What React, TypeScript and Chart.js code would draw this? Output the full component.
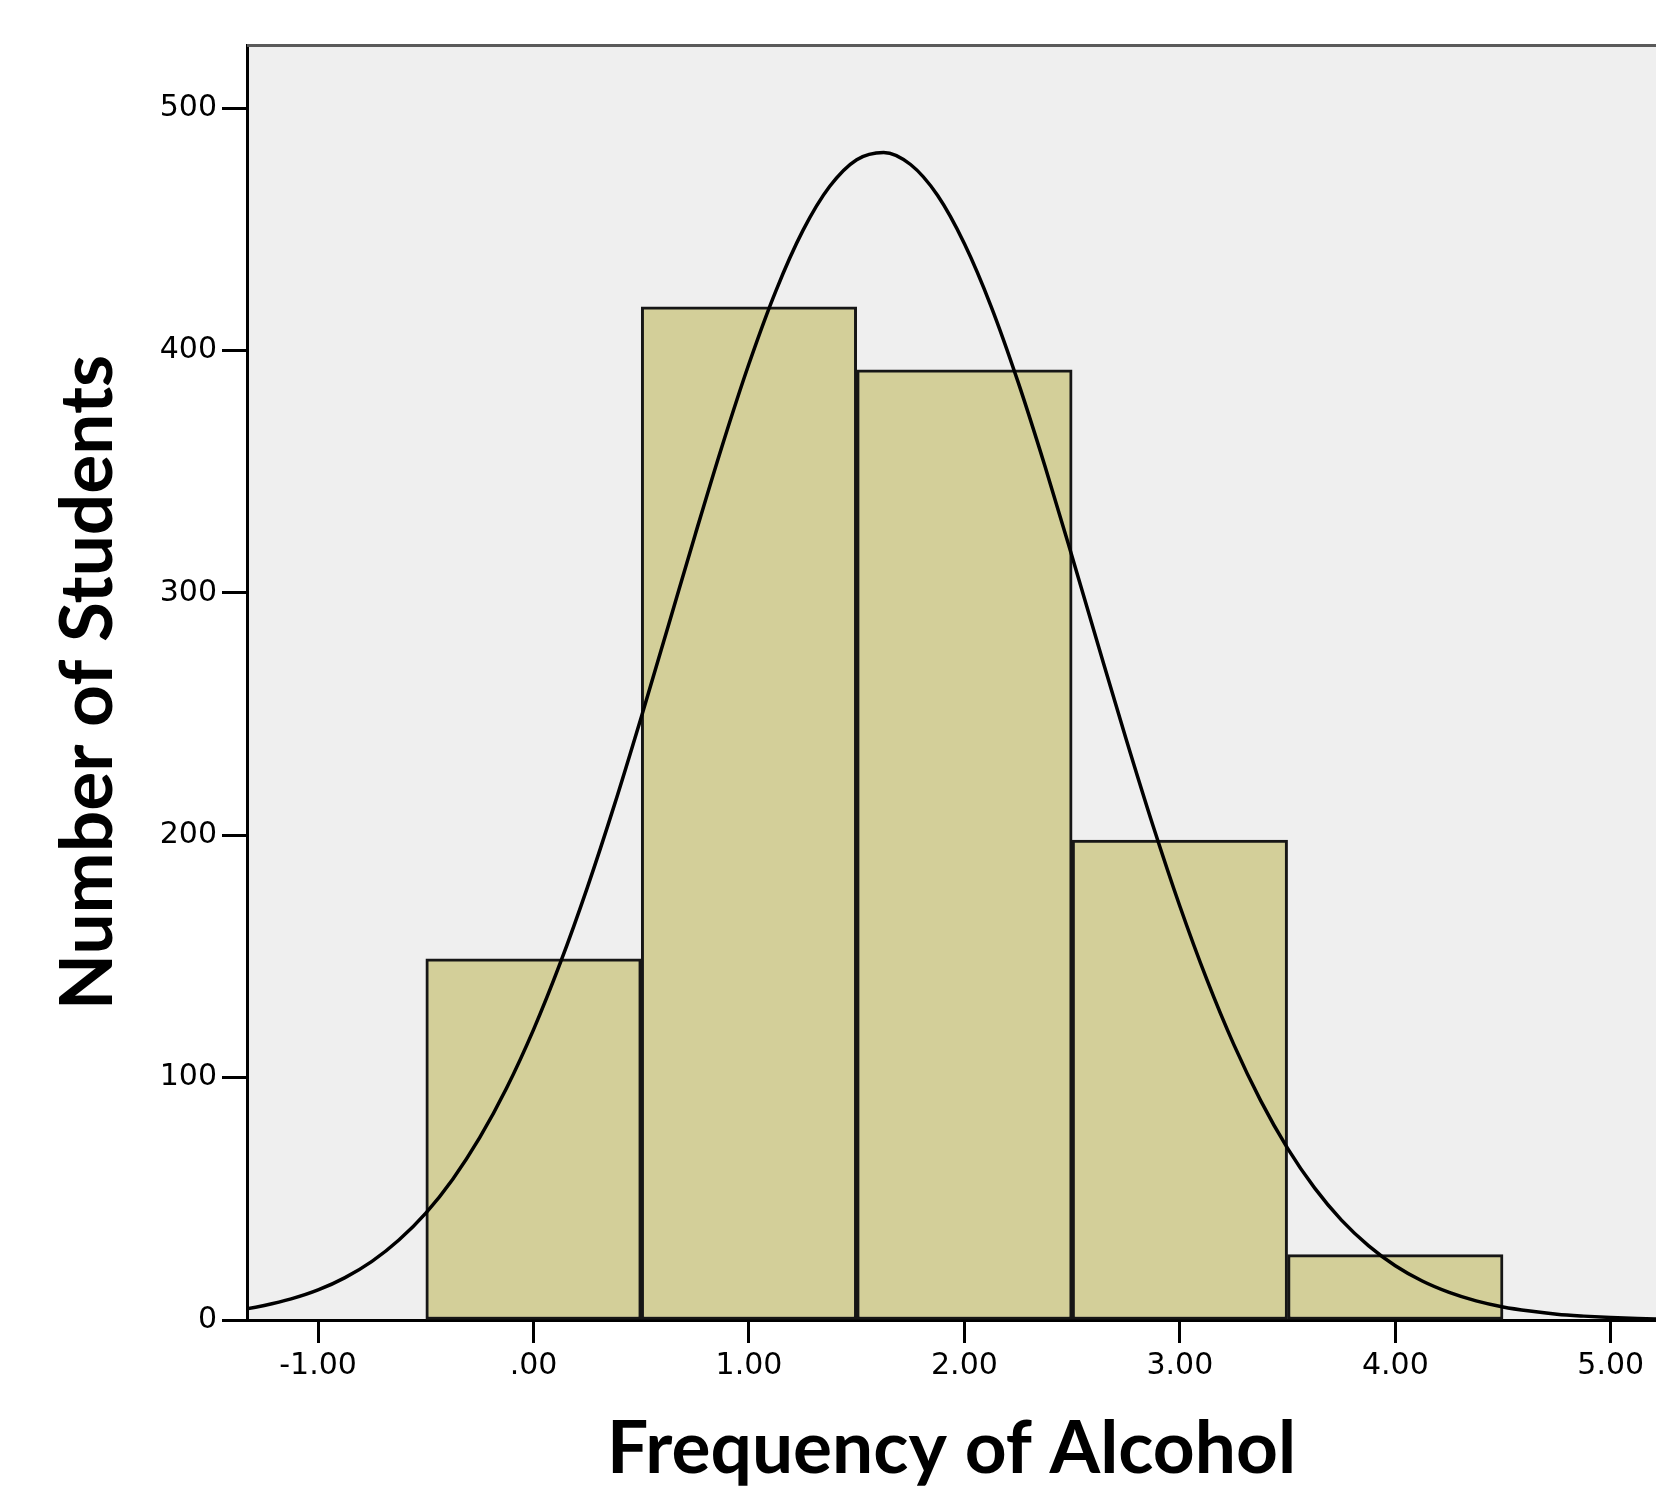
import React, { useEffect, useRef } from "react";
import { Chart, registerables } from "chart.js";

Chart.register(...registerables);

// Histogram bins (bin centres) and counts
const binCenters = [0, 1, 2, 3, 4];
const binCounts = [149, 418, 392, 198, 27];

// Fitted normal curve
const curveX = [
  -1.5, -1.375, -1.25, -1.125, -1.0, -0.875, -0.75, -0.625, -0.5, -0.375, -0.25, -0.125,
  0, 0.125, 0.25, 0.375, 0.5, 0.625, 0.75, 0.875, 1.0, 1.125, 1.25, 1.375, 1.5, 1.625,
  1.75, 1.875, 2.0, 2.125, 2.25, 2.375, 2.5, 2.625, 2.75, 2.875, 3.0, 3.125, 3.25, 3.375,
  3.5, 3.625, 3.75, 3.875, 4.0, 4.125, 4.25, 4.375, 4.5, 4.625, 4.75, 4.875, 5.0, 5.125,
  5.25, 5.375, 5.5,
];
const curveY = [
  2.7, 4.0, 6.0, 8.7, 12.4, 17.5, 24.2, 33.0, 44.1, 58.1, 75.2, 95.7,
  119.8, 147.5, 178.5, 212.4, 248.7, 286.2, 323.9, 360.5, 394.5, 424.6, 449.4, 467.7, 478.7, 481.7,
  476.7, 464.0, 444.0, 417.9, 386.7, 351.9, 314.9, 277.1, 239.8, 204.0, 170.7, 140.5, 113.7, 90.5,
  70.8, 54.5, 41.2, 30.7, 22.4, 16.1, 11.4, 7.9, 5.4, 3.7, 2.4, 1.6, 1.0, 0.6,
  0.4, 0.2, 0.1,
];

// Axis ticks
const xTickValues = [-1, 0, 1, 2, 3, 4, 5];
const xTickLabels = ["-1.00", ".00", "1.00", "2.00", "3.00", "4.00", "5.00"];
const yTickValues = [0, 100, 200, 300, 400, 500];
const yTickLabels = ["0", "100", "200", "300", "400", "500"];

const xTitle = "Frequency of Alcohol";
const yTitle = "Number of Students";

const W = 1656;
const H = 1486;

const plotBgPlugin = {
  id: "plotBg",
  beforeDraw(chart: any) {
    const { ctx, chartArea } = chart;
    ctx.save();
    ctx.fillStyle = "#efefef";
    ctx.fillRect(chartArea.left, chartArea.top, chartArea.right - chartArea.left, chartArea.bottom - chartArea.top);
    ctx.restore();
  },
  afterDraw(chart: any) {
    const { ctx, chartArea } = chart;
    ctx.save();
    ctx.strokeStyle = "#5a5a5a";
    ctx.lineWidth = 3;
    ctx.beginPath();
    ctx.moveTo(chartArea.left, chartArea.top + 0.5);
    ctx.lineTo(chartArea.right, chartArea.top + 0.5);
    ctx.stroke();
    ctx.restore();
  },
};

export default function App() {
  const ref = useRef<HTMLCanvasElement | null>(null);

  useEffect(() => {
    if (!ref.current) return;
    const tickFont = { family: "'DejaVu Sans', sans-serif", size: 30 };
    const titleFont = { family: "Lato, 'Open Sans', sans-serif", size: 73, weight: "bold" as const, lineHeight: 1 };
    const chart = new Chart(ref.current, {
      type: "bar",
      data: {
        datasets: [
          {
            type: "line",
            data: curveX.map((x, i) => ({ x, y: curveY[i] })),
            borderColor: "#000000",
            borderWidth: 3.5,
            pointRadius: 0,
            cubicInterpolationMode: "monotone",
            fill: false,
            order: 0,
          } as any,
          {
            type: "bar",
            data: binCenters.map((x, i) => ({ x, y: binCounts[i] })),
            backgroundColor: "#d3cf99",
            borderColor: "#161616",
            borderWidth: 3,
            borderSkipped: false,
            barPercentage: 1,
            categoryPercentage: 1,
            order: 1,
          } as any,
        ],
      },
      options: {
        responsive: false,
        animation: false,
        devicePixelRatio: 1,
        layout: { padding: { top: 45, left: 0, right: 0, bottom: 0 } },
        plugins: {
          legend: { display: false },
          tooltip: { enabled: false },
          title: { display: false },
        },
        scales: {
          x: {
            type: "linear",
            min: -1.33,
            max: 5.21,
            offset: false,
            grid: {
              offset: false,
              drawOnChartArea: false,
              drawTicks: true,
              tickLength: 23,
              tickWidth: 3,
              tickColor: "#000000",
            },
            border: { display: true, color: "#000000", width: 3 },
            afterBuildTicks: (axis: any) => {
              axis.ticks = xTickValues.map((v) => ({ value: v }));
            },
            afterFit: (axis: any) => {
              axis.height = 166;
            },
            ticks: {
              autoSkip: false,
              maxRotation: 0,
              minRotation: 0,
              padding: 5,
              color: "#000000",
              font: tickFont,
              callback: (value: any) => {
                const i = xTickValues.indexOf(Number(value));
                return i >= 0 ? xTickLabels[i] : "";
              },
            },
            title: {
              display: true,
              text: xTitle,
              color: "#000000",
              font: titleFont,
              padding: { top: 0, bottom: 0 },
            },
          },
          y: {
            type: "linear",
            min: 0,
            max: 526,
            grid: {
              drawOnChartArea: false,
              drawTicks: true,
              tickLength: 25,
              tickWidth: 3,
              tickColor: "#000000",
            },
            border: { display: true, color: "#000000", width: 3 },
            afterBuildTicks: (axis: any) => {
              axis.ticks = yTickValues.map((v) => ({ value: v }));
            },
            afterFit: (axis: any) => {
              axis.width = 247;
            },
            ticks: {
              autoSkip: false,
              padding: 5,
              color: "#000000",
              font: tickFont,
              callback: (value: any) => {
                const i = yTickValues.indexOf(Number(value));
                return i >= 0 ? yTickLabels[i] : "";
              },
            },
            title: {
              display: true,
              text: yTitle,
              color: "#000000",
              font: titleFont,
              padding: { top: 52, bottom: 0 },
            },
          },
        },
      },
      plugins: [plotBgPlugin],
    });
    return () => chart.destroy();
  }, []);

  return (
    <div style={{ position: "absolute", left: 0, top: 0, width: W, height: H, background: "#ffffff", overflow: "hidden" }}>
      <canvas ref={ref} width={W} height={H} style={{ width: W, height: H, display: "block" }} />
    </div>
  );
}
